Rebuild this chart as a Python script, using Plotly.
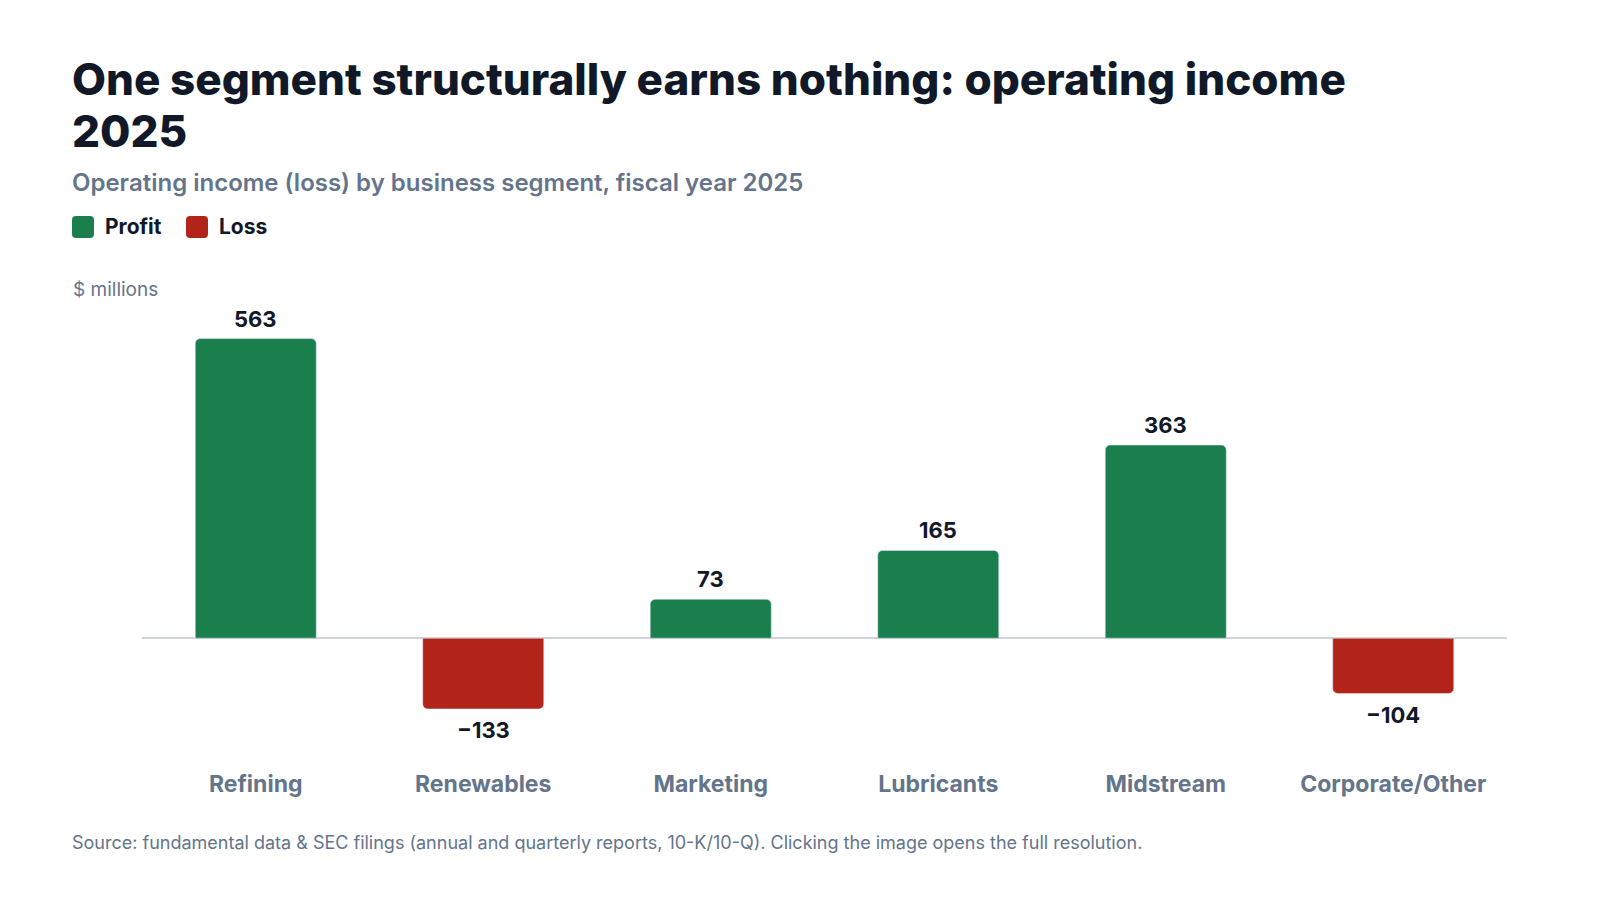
import plotly.graph_objects as go

# operating income by segment, FY2025 ($ millions)
segments = ['Refining', 'Renewables', 'Marketing', 'Lubricants', 'Midstream', 'Corporate/Other']
income = [563, -133, 73, 165, 363, -104]
legend_names = ['Profit', 'Loss']

GREEN = '#1b7f4d'
RED = '#b22419'
DARK = '#111827'
SLATE = '#64748b'
FONT = 'Inter, Roboto, sans-serif'

L, R, T, B = 134, 101, 312, 140
W, H = 1600, 900
PW, PH = W - L - R, H - T - B

profit = [v if v >= 0 else None for v in income]
loss = [v if v < 0 else None for v in income]


def fmt(v):
    return f'{v:,}' if v >= 0 else f'\u2212{abs(v):,}'


def px(x):
    return (x - L) / PW


def py(y):
    return (H - B - y) / PH


def rounded_square(size, r):
    h = size / 2
    return (f'M {-h + r},{-h} L {h - r},{-h} Q {h},{-h} {h},{-h + r} '
            f'L {h},{h - r} Q {h},{h} {h - r},{h} L {-h + r},{h} '
            f'Q {-h},{h} {-h},{h - r} L {-h},{-h + r} Q {-h},{-h} {-h + r},{-h} Z')


fig = go.Figure()
fig.add_bar(x=segments, y=profit, name='Profit', marker_color=GREEN,
            marker_cornerradius=5, hoverinfo='skip', showlegend=False)
fig.add_bar(x=segments, y=loss, name='Loss', marker_color=RED,
            marker_cornerradius=5, hoverinfo='skip', showlegend=False)

# value labels above / below each bar
for seg, v in zip(segments, income):
    fig.add_annotation(
        x=seg, y=v, text=fmt(v), showarrow=False,
        yanchor='bottom' if v >= 0 else 'top',
        yshift=5 if v >= 0 else -6,
        font=dict(family=FONT, size=22, color=DARK, weight=700),
    )

# legend: rounded swatches + labels
for name, color, sx in zip(legend_names, [GREEN, RED], [75, 189]):
    fig.add_shape(
        type='path', xref='paper', yref='paper', xsizemode='pixel', ysizemode='pixel',
        xanchor=px(sx), yanchor=py(219), path=rounded_square(22, 4),
        fillcolor=color, line_width=0, layer='above',
    )
    fig.add_annotation(
        text=name, xref='paper', yref='paper', x=px(sx + 20), y=py(219),
        xanchor='left', yanchor='middle', showarrow=False,
        font=dict(family=FONT, size=21, color=DARK, weight=700),
    )

fig.add_annotation(
    text='2025', xref='paper', yref='paper', x=px(62), y=py(123),
    xanchor='left', yanchor='middle', showarrow=False,
    font=dict(family=FONT, size=44, color=DARK, weight=800),
)
fig.add_annotation(
    text='$ millions', xref='paper', yref='paper', x=px(63), y=py(282),
    xanchor='left', yanchor='middle', showarrow=False,
    font=dict(family=FONT, size=19, color=SLATE),
)
fig.add_annotation(
    text='Operating income (loss) by business segment, fiscal year 2025',
    xref='paper', yref='paper', x=px(62), y=py(174),
    xanchor='left', yanchor='middle', showarrow=False,
    font=dict(family=FONT, size=24, color=SLATE, weight=600),
)
fig.add_annotation(
    text='Source: fundamental data &amp; SEC filings (annual and quarterly reports, 10-K/10-Q). '
         'Clicking the image opens the full resolution.',
    xref='paper', yref='paper', x=px(62), y=py(834),
    xanchor='left', yanchor='middle', showarrow=False,
    font=dict(family=FONT, size=18, color=SLATE),
)

fig.update_layout(
    width=W, height=H,
    paper_bgcolor='white', plot_bgcolor='white',
    margin=dict(l=L, r=R, t=T, b=B),
    barmode='relative', bargap=0.468,
    title=dict(
        text='One segment structurally earns nothing: operating income',
        xref='container', yref='container', x=64 / W, y=1 - 72 / H,
        xanchor='left', yanchor='middle',
        font=dict(family=FONT, size=44, color=DARK, weight=800),
    ),
    xaxis=dict(
        showgrid=False, showline=False, ticks='',
        tickfont=dict(family=FONT, size=23, color=SLATE, weight=700),
    ),
    yaxis=dict(
        range=[-244, 598], showgrid=False, showticklabels=False, ticks='',
        zeroline=True, zerolinecolor='#d1d5db', zerolinewidth=2,
    ),
    showlegend=False,
)

fig.write_html('out.html')
